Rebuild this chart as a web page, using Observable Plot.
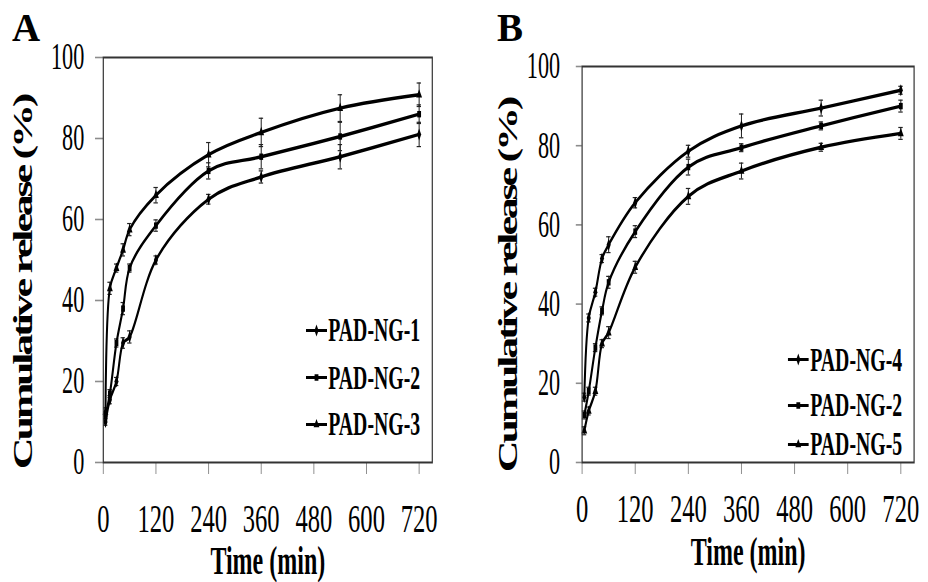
<!DOCTYPE html>
<html>
<head>
<meta charset="utf-8">
<script src="https://cdn.jsdelivr.net/npm/d3@7"></script>
<script src="https://cdn.jsdelivr.net/npm/@observablehq/plot@0.6"></script>
<style>
html, body { margin: 0; padding: 0; background: #fff; overflow: hidden; }
#stage { position: relative; width: 928px; height: 582px; overflow: hidden; background: #fff; }
#squeeze { position: absolute; left: 0; top: 0; height: 582px; transform-origin: 0 0; }
.panel { position: absolute; top: 0; }
.tag { position: absolute; font-family: "Liberation Serif", serif; font-weight: bold; font-size: 39px; line-height: 1; color: #000; }
.leg { position: absolute; display: flex; align-items: center; font-family: "Liberation Serif", serif; font-weight: bold; font-size: 33px; line-height: 1; transform: translateY(-50%); white-space: nowrap; color: #000; }
.leg svg { display: block; margin-right: 2px; }
</style>
</head>
<body>
<div id="stage"><div id="squeeze"></div></div>
<script>
// ---------------- data ----------------
const timeMin = [5, 15, 30, 45, 60, 120, 240, 360, 540, 720];
const xTicks = [0, 120, 240, 360, 480, 600, 720];
const yTicks = [0, 20, 40, 60, 80, 100];
const xLabel = "Time (min)";
const yLabel = "Cumulative release (%)";

// Panel A
const namesA = ["PAD-NG-1", "PAD-NG-2", "PAD-NG-3"];
const a_ng1 = [10, 15.5, 20, 29.5, 31, 50, 65, 70.5, 75.5, 81];
const a_ng1_err = [0.8, 1, 1, 1.3, 1.5, 1, 1.2, 1.5, 3, 3];
const a_ng2 = [11.5, 17, 29.5, 38, 48, 58.5, 72, 75.5, 80.5, 86];
const a_ng2_err = [1, 1, 1, 1.5, 1, 1.4, 2, 3, 3.5, 2.3];
const a_ng3 = [12.5, 43, 48, 52.5, 57.5, 66, 76, 81.5, 87.5, 90.8];
const a_ng3_err = [1, 1.5, 1, 1.5, 1.5, 1.9, 3, 3.5, 3.3, 2.9];

// Panel B
const namesB = ["PAD-NG-4", "PAD-NG-2", "PAD-NG-5"];
const b_ng4 = [16.5, 36.5, 43, 51.5, 55, 65.6, 78.6, 85, 89.5, 94];
const b_ng4_err = [1, 1, 1, 1, 2, 1.3, 1.5, 3, 2, 1];
const b_ng2 = [12, 18, 29, 38.3, 45.5, 58.3, 74.6, 79.5, 85, 90];
const b_ng2_err = [1, 1, 1, 1, 1.5, 1.5, 2, 1, 1, 1.5];
const b_ng5 = [8, 13, 18, 30, 32.8, 49.3, 67.2, 73.6, 79.6, 83.1];
const b_ng5_err = [1, 1, 1, 1, 1.5, 1.5, 2, 2, 1, 1.5];

const symbolsA = ["diamond", "square", "triangle"];
const symbolsB = ["diamond", "square", "triangle"];

// ---------------- helpers ----------------
const S = 0.6; // horizontal squeeze of the whole figure
const squeeze = document.getElementById("squeeze");
squeeze.style.width = (928 / S) + "px";
squeeze.style.transform = `scaleX(${S})`;

function rowsOf(names, vals, errs) {
  const out = [];
  names.forEach((n, i) => timeMin.forEach((t, j) => out.push({series: n, t, v: vals[i][j], e: errs[i][j]})));
  return out;
}

function makePanel(cfg) {
  const rows = rowsOf(cfg.names, cfg.vals, cfg.errs);
  const width = (cfg.right - cfg.left) / S;
  const chart = Plot.plot({
    width,
    height: 582,
    marginLeft: (cfg.frameLeft - cfg.left) / S,
    marginRight: (cfg.right - cfg.frameRight) / S,
    marginTop: cfg.frameTop,
    marginBottom: 582 - cfg.frameBottom,
    style: {fontFamily: '"Liberation Serif", "Times New Roman", serif', color: "#000", background: "transparent", overflow: "visible"},
    x: {domain: [0, 750]},
    y: {domain: [0, 100]},
    symbol: {domain: cfg.names, range: cfg.symbols},
    marks: [
      Plot.axisY({ticks: yTicks, tickSize: cfg.yTickLen / S, tickPadding: (cfg.frameLeft - cfg.yTickLen - cfg.yLabRight) / S,
                  fontSize: 37, stroke: "#8c8c8c", strokeWidth: 1.6, label: null}),
      Plot.axisX({ticks: xTicks, tickSize: 12, tickPadding: cfg.xTickPad, fontSize: 41,
                  stroke: "#8c8c8c", strokeWidth: 1.6, label: null}),
      Plot.ruleX(rows, {x: "t", y1: d => d.v - d.e, y2: d => d.v + d.e, stroke: "#222", strokeWidth: 1.7}),
      Plot.ruleY(rows, {y: d => d.v + d.e, x1: d => d.t - 5, x2: d => d.t + 5, stroke: "#222", strokeWidth: 1.2}),
      Plot.ruleY(rows, {y: d => d.v - d.e, x1: d => d.t - 5, x2: d => d.t + 5, stroke: "#222", strokeWidth: 1.2}),
      Plot.line(rows, {x: "t", y: "v", z: "series", curve: "catmull-rom", stroke: "#000", strokeWidth: 3.4}),
      Plot.dot(rows, {x: "t", y: "v", symbol: "series", fill: "#000", stroke: "none", r: 3.6}),
      Plot.frame({stroke: "#333", strokeWidth: 2}),
      Plot.text([yLabel], {text: d => d, frameAnchor: "left", rotate: -90, textAnchor: "middle",
                           dx: (cfg.yTitleX - cfg.frameLeft) / S, dy: cfg.yTitleY - (cfg.frameTop + cfg.frameBottom) / 2,
                           fontSize: 44, fontWeight: "bold", fill: "#000"}),
      Plot.text([xLabel], {text: d => d, frameAnchor: "bottom", dy: cfg.xTitleY - cfg.frameBottom,
                           fontSize: 40, fontWeight: "bold", fill: "#000"})
    ]
  });
  chart.classList.add("panel");
  chart.style.left = (cfg.left / S) + "px";
  // tighten the rotated y title to its length in the reference
  chart.querySelectorAll("text").forEach(t => {
    if (t.textContent === yLabel) {
      t.setAttribute("letter-spacing", "-3.2");
      t.setAttribute("text-anchor", "middle");
    }
  });
  squeeze.appendChild(chart);

  // legend inside the frame
  cfg.names.forEach((n, i) => {
    const item = document.createElement("div");
    item.className = "leg";
    item.style.left = (cfg.legX / S) + "px";
    item.style.top = cfg.legY[i] + "px";
    const sw = 21 / S;
    const sym = d3.symbol(cfg.symbols[i] === "diamond" ? d3.symbolDiamond : cfg.symbols[i] === "square" ? d3.symbolSquare : d3.symbolTriangle, Math.PI * 3.6 * 3.6)();
    item.innerHTML = `<svg width="${sw}" height="14" viewBox="0 0 ${sw} 14"><line x1="0" y1="7" x2="${sw}" y2="7" stroke="#000" stroke-width="3"/><path d="${sym}" transform="translate(${sw / 2},7)" fill="#000"/></svg><span>${n}</span>`;
    squeeze.appendChild(item);
  });
}

makePanel({
  names: namesA, vals: [a_ng1, a_ng2, a_ng3], errs: [a_ng1_err, a_ng2_err, a_ng3_err], symbols: symbolsA,
  left: 0, right: 470, frameLeft: 103, frameRight: 432, frameTop: 57, frameBottom: 462,
  yTickLen: 8, yLabRight: 84, xTickPad: 28,
  yTitleX: 23, yTitleY: 282, xTitleY: 574,
  legX: 306, legY: [330, 377.5, 424]
});

makePanel({
  names: namesB, vals: [b_ng4, b_ng2, b_ng5], errs: [b_ng4_err, b_ng2_err, b_ng5_err], symbols: symbolsB,
  left: 470, right: 928, frameLeft: 582, frameRight: 914, frameTop: 66, frameBottom: 462,
  yTickLen: 6, yLabRight: 560, xTickPad: 18,
  yTitleX: 508, yTitleY: 285, xTitleY: 565,
  legX: 788, legY: [359.6, 405, 444]
});

// panel tags
const stage = document.getElementById("stage");
[["A", 12], ["B", 497]].forEach(([t, x]) => {
  const d = document.createElement("div");
  d.className = "tag";
  d.textContent = t;
  d.style.left = x + "px";
  d.style.top = "8px";
  stage.appendChild(d);
});
</script>
</body>
</html>
